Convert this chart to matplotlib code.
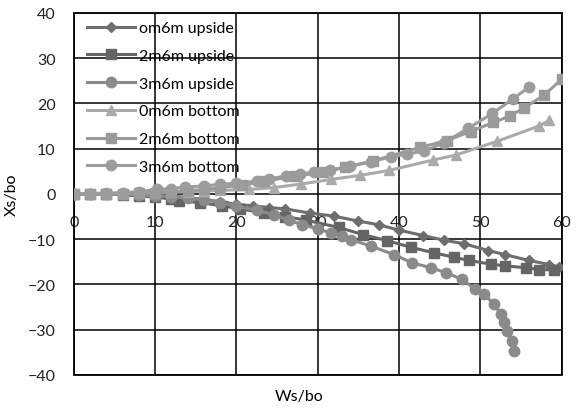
import matplotlib.pyplot as plt
from matplotlib.patches import Rectangle

plt.rcParams['font.family'] = ['Lato', 'DejaVu Sans']

# 0m6m upside (diamonds)
x_0up = [0, 2, 4, 6, 8, 10, 12, 14, 16, 18, 20, 22, 24, 26, 29, 32, 35, 37.5,
         40, 43, 45.5, 48, 51, 53, 56, 58.5, 59.7]
y_0up = [0, 0, 0, -0.1, -0.2, -0.3, -0.5, -0.8, -1.2, -1.7, -2.3, -2.6, -3.0,
         -3.3, -4.2, -4.9, -6.0, -6.8, -8.0, -9.2, -10.2, -11.0, -12.5, -13.4,
         -14.7, -15.6, -16.2]

# 2m6m upside (squares)
x_2up = [0, 2, 4, 6, 8, 10, 12, 13, 15.5, 18.2, 20.5, 23.4, 26, 28.6, 32.6,
         35.6, 38.5, 41.5, 44.3, 46.8, 48.6, 51.3, 53.1, 55.6, 57.2, 59.1]
y_2up = [0, 0, 0, -0.2, -0.4, -0.7, -1.1, -1.5, -1.9, -2.6, -3.3, -4.2, -5.0,
         -5.8, -7.4, -9.0, -10.3, -11.8, -13.0, -14.0, -14.7, -15.5, -15.9,
         -16.3, -16.7, -16.8]

# 3m6m upside (circles)
x_3up = [0, 2, 4, 6, 8, 10, 12, 14, 16, 18, 20, 22.5, 24.6, 26.5, 28.1, 30,
         31.6, 33, 34.1, 36.5, 39.4, 41.6, 43.9, 45.8, 47.8, 49.4, 50.5, 51.7,
         52.5, 52.9, 53.3, 53.9, 54.2]
y_3up = [0, 0, 0, -0.1, -0.2, -0.4, -0.6, -0.9, -1.3, -1.9, -2.7, -3.6, -4.6,
         -5.8, -6.8, -7.7, -8.6, -9.4, -10.1, -11.5, -13.4, -15.2, -16.3,
         -17.4, -18.9, -21.1, -22.2, -24.4, -26.5, -28.4, -30.2, -32.4, -34.6]

# 0m6m bottom (triangles)
x_0bt = [0, 2, 4, 6, 8, 10, 12, 14, 16, 18, 21.6, 24.6, 28, 31.6, 35.2, 38.8,
         44.2, 47, 52, 57.2, 58.5]
y_0bt = [0, 0, 0, 0.1, 0.2, 0.3, 0.4, 0.5, 0.6, 0.8, 1.0, 1.4, 2.2, 3.2, 4.1,
         5.2, 7.5, 8.6, 11.6, 15.0, 16.3]

# 2m6m bottom (squares)
x_2bt = [0, 2, 4, 6, 8, 10, 12, 14, 16, 18, 20.7, 23.4, 27.1, 30.7, 33.4, 36.8,
         42.6, 45.9, 48.8, 51.6, 53.6, 55.4, 57.8, 60]
y_2bt = [0, 0, 0, 0.1, 0.2, 0.3, 0.5, 0.7, 1.0, 1.4, 2.0, 2.8, 3.9, 4.8, 5.9,
         7.3, 10.3, 11.8, 13.8, 15.8, 17.2, 19.0, 21.8, 25.3]

# 3m6m bottom (circles)
x_3bt = [0, 2, 4, 6, 8, 10.3, 12, 13.7, 16, 18, 20, 22.5, 24, 26.1, 27.8, 29.5,
         31.5, 34, 36.5, 39, 41, 43.1, 45.5, 48.5, 51.5, 54, 56]
y_3bt = [0, 0.1, 0.2, 0.3, 0.5, 1.0, 1.2, 1.5, 1.8, 2.1, 2.4, 2.8, 3.3, 4.0,
         4.4, 4.8, 5.3, 6.1, 7.1, 8.2, 8.8, 9.5, 11.3, 14.5, 17.8, 21.0, 23.6]

labels = ["om6m upside", "2m6m upside", "3m6m upside",
          "0m6m bottom", "2m6m bottom", "3m6m bottom"]
x_ticks = [0, 10, 20, 30, 40, 50, 60]
y_ticks = [-40, -30, -20, -10, 0, 10, 20, 30, 40]

fig = plt.figure(figsize=(5.76, 4.10), dpi=100)
ax = fig.add_axes([0.128, 0.083, 0.847, 0.883])

series = [
    (x_0up, y_0up, "D", "#6e6e6e", 5.5),
    (x_2up, y_2up, "s", "#656565", 7.5),
    (x_3up, y_3up, "o", "#8a8a8a", 7.5),
    (x_0bt, y_0bt, "^", "#aaaaaa", 7.5),
    (x_2bt, y_2bt, "s", "#9a9a9a", 6.5),
    (x_3bt, y_3bt, "o", "#9c9c9c", 7.5),
]
for (xs, ys, mk, col, ms), lab in zip(series, labels):
    ax.plot(xs, ys, marker=mk, color=col, markersize=ms, linewidth=2.2,
            label=lab)

ax.set_xlim(0, 60)
ax.set_ylim(-40, 40)
ax.set_xticks(x_ticks)
ax.set_yticks(y_ticks)
ax.grid(True, color="black", linewidth=1.1)
ax.set_axisbelow(True)

# x axis crosses at y = 0
ax.spines['bottom'].set_position(('data', 0))
ax.spines['bottom'].set_visible(False)
for s in ['top', 'left', 'right']:
    ax.spines[s].set_visible(False)
ax.add_patch(Rectangle((0, 0), 1, 1, transform=ax.transAxes, fill=False,
                       edgecolor="black", linewidth=1.3, clip_on=False))
ax.tick_params(length=0, labelsize=11.5, colors="#222222")
ax.tick_params(axis='x', pad=15)
ax.tick_params(axis='y', pad=13)

ax.set_ylabel("Xs/bo", fontsize=11.5, labelpad=6)
fig.text(0.52, 0.032, "Ws/bo", fontsize=11.5, ha="center", va="center")

ax.legend(loc="upper left", bbox_to_anchor=(0.01, 1.0), frameon=False,
          fontsize=11.5, handlelength=3.0, labelspacing=0.85,
          handletextpad=0.3, borderaxespad=0.1)

fig.savefig("out.png", dpi=100)
